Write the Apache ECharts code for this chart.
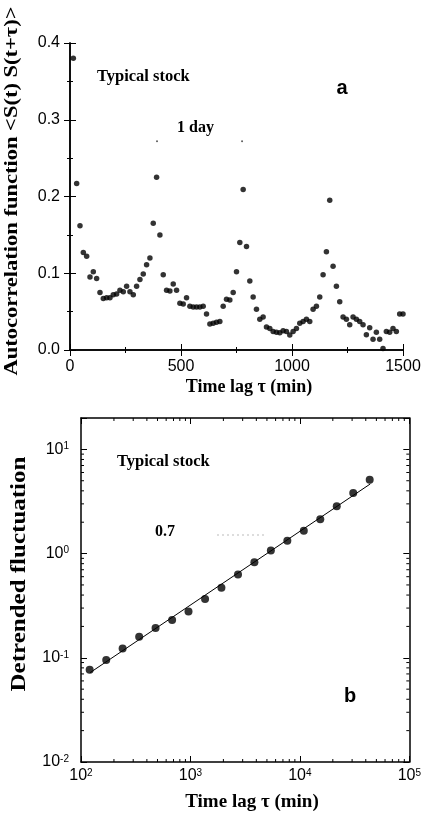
<!DOCTYPE html>
<html><head><meta charset="utf-8">
<script src="https://cdn.jsdelivr.net/npm/echarts@6/dist/echarts.min.js"></script>
<style>html,body{margin:0;padding:0;background:#fff}#c{width:424px;height:822px}</style>
</head><body><div id="c"></div>
<script>
// Panel a: autocorrelation vs time lag (min)
const lagsA = [15,30,45,60,75,90,105,120,135,150,165,180,195,210,225,240,255,270,285,300,
  315,330,345,360,375,390,405,420,435,450,465,480,495,510,525,540,555,570,585,600,
  615,630,645,660,675,690,705,720,735,750,765,780,795,810,825,840,855,870,885,900,
  915,930,945,960,975,990,1005,1020,1035,1050,1065,1080,1095,1110,1125,1140,1155,1170,1185,1200,
  1215,1230,1245,1260,1275,1290,1305,1320,1335,1350,1365,1380,1395,1410,1425,1440,1455,1470,1485,1500];
const acf = [0.380,0.217,0.162,0.127,0.122,0.095,0.102,0.093,0.075,0.067,0.068,0.068,0.072,0.073,0.078,0.076,0.083,0.076,0.072,0.083,
  0.092,0.099,0.111,0.120,0.165,0.225,0.150,0.098,0.078,0.077,0.086,0.078,0.061,0.060,0.068,0.057,0.056,0.056,0.056,0.057,
  0.047,0.034,0.035,0.036,0.037,0.057,0.066,0.065,0.075,0.102,0.140,0.209,0.135,0.090,0.069,0.053,0.040,0.043,0.030,0.028,
  0.024,0.023,0.0225,0.025,0.024,0.0195,0.024,0.028,0.035,0.037,0.040,0.037,0.053,0.057,0.069,0.098,0.128,0.195,0.109,0.083,
  0.063,0.043,0.040,0.033,0.043,0.040,0.037,0.033,0.020,0.029,0.014,0.023,0.014,0.002,0.024,0.023,0.028,0.024,0.047,0.047];
const dayMarkLags = [392, 775];
const dayMarkVals = [0.272, 0.272];
const xTicksA = [0, 500, 1000, 1500];
const yTicksA = [0.0, 0.1, 0.2, 0.3, 0.4];

// Panel b: detrended fluctuation vs time lag (log-log)
const lagsB = [120,170,240,340,480,680,960,1360,1920,2720,3840,5430,7680,10860,15360,21720,30720,43450];
const fluct = [0.0767,0.095,0.123,0.159,0.193,0.230,0.278,0.366,0.469,0.629,0.826,1.07,1.33,1.66,2.13,2.84,3.82,5.12];
const fitLags = [121, 44000];
const fitVals = [0.072, 4.66];

const SANS = '"Liberation Sans", Arial, sans-serif';
const SERIF = '"Liberation Serif", "Times New Roman", serif';
const AX = {show:true, lineStyle:{color:'#000', width:1.5}};

function linAxis(dim, grid, pos, min, max, interval, labels, fmt, margin) {
  return {
    type:'value', gridIndex:grid, position:pos, min:min, max:max, interval:interval,
    axisLine: AX,
    axisTick:{show:true, inside:true, length:6, lineStyle:{color:'#000', width:1}},
    minorTick:{show:true, splitNumber:2, length:3, lineStyle:{color:'#000', width:1}},
    splitLine:{show:false}, minorSplitLine:{show:false},
    axisLabel:{show:labels, color:'#000', fontSize:16, fontFamily:SANS, margin:margin, formatter:fmt}
  };
}
function logFmt(v) {
  const e = Math.round(Math.log10(v));
  if (Math.abs(v / Math.pow(10, e) - 1) > 1e-6) return '';
  return '{b|10}{s|' + e + '}';
}
const richLog = {
  b:{fontSize:16, fontFamily:SANS, color:'#000'},
  s:{fontSize:10, fontFamily:SANS, color:'#000', verticalAlign:'top'}
};
function logAxis(grid, pos, min, max, labels, margin) {
  return {
    type:'log', logBase:10, gridIndex:grid, position:pos, min:min, max:max,
    axisLine: AX,
    axisTick:{show:true, inside:true, length:6, lineStyle:{color:'#000', width:1}},
    minorTick:{show:false},
    splitLine:{show:false},
    axisLabel:{show:labels, margin:margin, formatter:logFmt, rich:richLog, color:'#000'}
  };
}

// minor tick positions on the log axes (axis decoration, not data)
const xMinor = [], yMinor = [];
[100,1000,10000].forEach(d => { for (let k=2;k<=9;k++) xMinor.push(k*d); });
[0.01,0.1,1,10].forEach(d => { for (let k=2;k<=9;k++) if (k*d < 20) yMinor.push(k*d); });

const chart = echarts.init(document.getElementById('c'), null, {renderer:'canvas'});
const option = {
  animation:false,
  backgroundColor:'#fff',
  grid:[
    {left:70, top:43, right:21, bottom:472},
    {left:81, top:418, right:13, bottom:60}
  ],
  xAxis:[
    linAxis('x',0,'bottom',0,1500,500,true,v=>String(v),9),
    linAxis('x',0,'top',0,1500,500,false,null,9),
    logAxis(1,'bottom',100,100000,true,6),
    logAxis(1,'top',100,100000,false,6)
  ],
  yAxis:[
    linAxis('y',0,'left',0,0.4,0.1,true,v=>v.toFixed(1),10),
    linAxis('y',0,'right',0,0.4,0.1,false,null,10),
    logAxis(1,'left',0.01,20,true,12),
    logAxis(1,'right',0.01,20,false,12)
  ],
  series:[
    {type:'scatter', xAxisIndex:0, yAxisIndex:0, symbolSize:5.5, silent:true,
     itemStyle:{color:'#000'}, data: lagsA.map((t,i)=>[t, acf[i]])},
    {type:'scatter', xAxisIndex:0, yAxisIndex:0, symbolSize:2, silent:true,
     itemStyle:{color:'#333'}, data: dayMarkLags.map((t,i)=>[t, dayMarkVals[i]])},
    {type:'line', xAxisIndex:2, yAxisIndex:2, showSymbol:false, silent:true,
     lineStyle:{color:'#000', width:1}, data: fitLags.map((t,i)=>[t, fitVals[i]])},
    {type:'scatter', xAxisIndex:2, yAxisIndex:2, symbolSize:8, silent:true,
     itemStyle:{color:'#000'}, data: lagsB.map((t,i)=>[t, fluct[i]])},
    {type:'custom', xAxisIndex:2, yAxisIndex:2, silent:true, clip:false,
     data: xMinor.map(v=>[v, 1]),
     renderItem:function(params, api){
       const v = api.value(0);
       const b = api.coord([v, 0.01]), t = api.coord([v, 20]);
       return {type:'group', children:[
         {type:'line', shape:{x1:b[0], y1:b[1], x2:b[0], y2:b[1]-3}, style:{stroke:'#000', lineWidth:1}},
         {type:'line', shape:{x1:t[0], y1:t[1], x2:t[0], y2:t[1]+3}, style:{stroke:'#000', lineWidth:1}}
       ]};
     }},
    {type:'custom', xAxisIndex:2, yAxisIndex:2, silent:true, clip:false,
     data: yMinor.map(v=>[1000, v]),
     renderItem:function(params, api){
       const v = api.value(1);
       const l = api.coord([100, v]), r = api.coord([100000, v]);
       return {type:'group', children:[
         {type:'line', shape:{x1:l[0], y1:l[1], x2:l[0]+3, y2:l[1]}, style:{stroke:'#000', lineWidth:1}},
         {type:'line', shape:{x1:r[0], y1:r[1], x2:r[0]-3, y2:r[1]}, style:{stroke:'#000', lineWidth:1}}
       ]};
     }}
  ],
  graphic:[
    {type:'text', x:12, y:191, rotation:Math.PI/2, scaleX:1.25,
     style:{text:'Autocorrelation function <S(t) S(t+τ)>', font:'bold 18px '+SERIF, fill:'#000', align:'center', verticalAlign:'middle'}},
    {type:'text', x:249, y:387,
     style:{text:'Time lag τ (min)', font:'bold 18px '+SERIF, fill:'#000', align:'center', verticalAlign:'middle'}},
    {type:'text', x:97, y:77,
     style:{text:'Typical stock', font:'bold 16.5px '+SERIF, fill:'#000', align:'left', verticalAlign:'middle'}},
    {type:'text', x:177, y:128,
     style:{text:'1 day', font:'bold 16px '+SERIF, fill:'#000', align:'left', verticalAlign:'middle'}},
    {type:'text', x:342, y:88,
     style:{text:'a', font:'bold 20px '+SANS, fill:'#000', align:'center', verticalAlign:'middle'}},
    {type:'text', x:20, y:574, rotation:Math.PI/2, scaleX:1.25,
     style:{text:'Detrended fluctuation', font:'bold 20px '+SERIF, fill:'#000', align:'center', verticalAlign:'middle'}},
    {type:'text', x:252, y:802,
     style:{text:'Time lag τ (min)', font:'bold 19px '+SERIF, fill:'#000', align:'center', verticalAlign:'middle'}},
    {type:'text', x:117, y:462,
     style:{text:'Typical stock', font:'bold 16.5px '+SERIF, fill:'#000', align:'left', verticalAlign:'middle'}},
    {type:'text', x:155, y:532,
     style:{text:'0.7', font:'bold 16px '+SERIF, fill:'#000', align:'left', verticalAlign:'middle'}},
    {type:'line', shape:{x1:217, y1:535, x2:265, y2:535}, style:{stroke:'#bbb', lineWidth:1, lineDash:[2,3]}},
    {type:'text', x:350, y:696,
     style:{text:'b', font:'bold 20px '+SANS, fill:'#000', align:'center', verticalAlign:'middle'}}
  ]
};
chart.setOption(option);
</script>
</body></html>
